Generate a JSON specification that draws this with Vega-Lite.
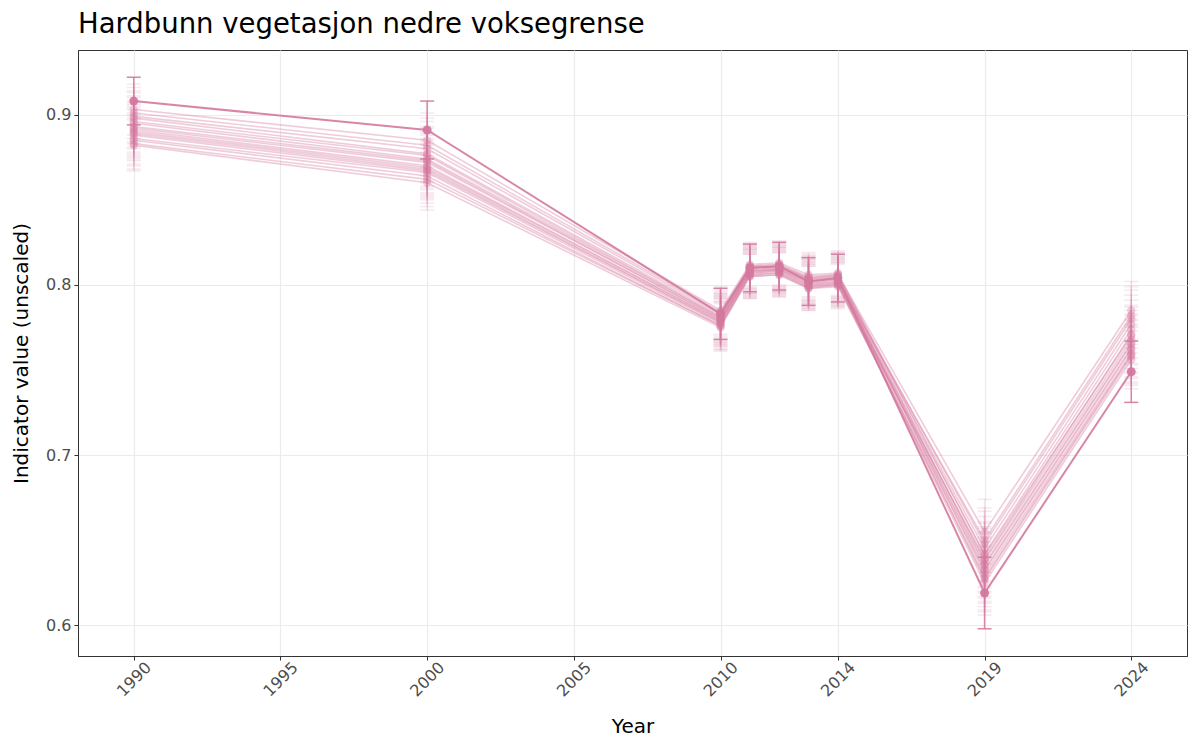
{
  "$schema": "https://vega.github.io/schema/vega-lite/v6.json",
  "width": 1200,
  "height": 750,
  "autosize": {"type": "fit", "contains": "padding"},
  "padding": {"left": 11, "right": 13, "top": 10, "bottom": 13},
  "title": {
    "text": "Hardbunn vegetasjon nedre voksegrense",
    "anchor": "start",
    "frame": "group",
    "fontSize": 27.5,
    "fontWeight": "normal",
    "font": "DejaVu Sans",
    "color": "#000000",
    "offset": 12
  },
  "data": {
    "values": [
      {"s": "main", "year": 1990, "v": 0.908, "lo": 0.894, "hi": 0.922},
      {"s": "main", "year": 2000, "v": 0.891, "lo": 0.874, "hi": 0.908},
      {"s": "main", "year": 2010, "v": 0.783, "lo": 0.768, "hi": 0.798},
      {"s": "main", "year": 2011, "v": 0.810, "lo": 0.796, "hi": 0.824},
      {"s": "main", "year": 2012, "v": 0.811, "lo": 0.797, "hi": 0.825},
      {"s": "main", "year": 2013, "v": 0.802, "lo": 0.788, "hi": 0.816},
      {"s": "main", "year": 2014, "v": 0.804, "lo": 0.790, "hi": 0.818},
      {"s": "main", "year": 2019, "v": 0.619, "lo": 0.598, "hi": 0.640},
      {"s": "main", "year": 2024, "v": 0.749, "lo": 0.731, "hi": 0.767},

      {"s": "s01", "year": 1990, "v": 0.903, "lo": 0.888, "hi": 0.918},
      {"s": "s01", "year": 2000, "v": 0.885, "lo": 0.869, "hi": 0.901},
      {"s": "s01", "year": 2010, "v": 0.785, "lo": 0.771, "hi": 0.799},
      {"s": "s01", "year": 2011, "v": 0.812, "lo": 0.799, "hi": 0.825},
      {"s": "s01", "year": 2012, "v": 0.813, "lo": 0.800, "hi": 0.826},
      {"s": "s01", "year": 2013, "v": 0.806, "lo": 0.793, "hi": 0.819},
      {"s": "s01", "year": 2014, "v": 0.807, "lo": 0.794, "hi": 0.820},
      {"s": "s01", "year": 2019, "v": 0.641, "lo": 0.622, "hi": 0.660},
      {"s": "s01", "year": 2024, "v": 0.770, "lo": 0.753, "hi": 0.787},

      {"s": "s02", "year": 1990, "v": 0.901, "lo": 0.886, "hi": 0.916},
      {"s": "s02", "year": 2000, "v": 0.882, "lo": 0.866, "hi": 0.898},
      {"s": "s02", "year": 2010, "v": 0.784, "lo": 0.770, "hi": 0.798},
      {"s": "s02", "year": 2011, "v": 0.811, "lo": 0.798, "hi": 0.824},
      {"s": "s02", "year": 2012, "v": 0.812, "lo": 0.799, "hi": 0.825},
      {"s": "s02", "year": 2013, "v": 0.805, "lo": 0.792, "hi": 0.818},
      {"s": "s02", "year": 2014, "v": 0.806, "lo": 0.793, "hi": 0.819},
      {"s": "s02", "year": 2019, "v": 0.655, "lo": 0.636, "hi": 0.674},
      {"s": "s02", "year": 2024, "v": 0.785, "lo": 0.768, "hi": 0.802},

      {"s": "s03", "year": 1990, "v": 0.899, "lo": 0.884, "hi": 0.914},
      {"s": "s03", "year": 2000, "v": 0.880, "lo": 0.864, "hi": 0.896},
      {"s": "s03", "year": 2010, "v": 0.783, "lo": 0.769, "hi": 0.797},
      {"s": "s03", "year": 2011, "v": 0.811, "lo": 0.798, "hi": 0.824},
      {"s": "s03", "year": 2012, "v": 0.812, "lo": 0.799, "hi": 0.825},
      {"s": "s03", "year": 2013, "v": 0.804, "lo": 0.791, "hi": 0.817},
      {"s": "s03", "year": 2014, "v": 0.806, "lo": 0.793, "hi": 0.819},
      {"s": "s03", "year": 2019, "v": 0.636, "lo": 0.617, "hi": 0.655},
      {"s": "s03", "year": 2024, "v": 0.766, "lo": 0.749, "hi": 0.783},

      {"s": "s04", "year": 1990, "v": 0.898, "lo": 0.883, "hi": 0.913},
      {"s": "s04", "year": 2000, "v": 0.877, "lo": 0.861, "hi": 0.893},
      {"s": "s04", "year": 2010, "v": 0.782, "lo": 0.768, "hi": 0.796},
      {"s": "s04", "year": 2011, "v": 0.810, "lo": 0.797, "hi": 0.823},
      {"s": "s04", "year": 2012, "v": 0.811, "lo": 0.798, "hi": 0.824},
      {"s": "s04", "year": 2013, "v": 0.804, "lo": 0.791, "hi": 0.817},
      {"s": "s04", "year": 2014, "v": 0.805, "lo": 0.792, "hi": 0.818},
      {"s": "s04", "year": 2019, "v": 0.648, "lo": 0.629, "hi": 0.667},
      {"s": "s04", "year": 2024, "v": 0.780, "lo": 0.763, "hi": 0.797},

      {"s": "s05", "year": 1990, "v": 0.896, "lo": 0.881, "hi": 0.911},
      {"s": "s05", "year": 2000, "v": 0.876, "lo": 0.860, "hi": 0.892},
      {"s": "s05", "year": 2010, "v": 0.781, "lo": 0.767, "hi": 0.795},
      {"s": "s05", "year": 2011, "v": 0.810, "lo": 0.797, "hi": 0.823},
      {"s": "s05", "year": 2012, "v": 0.811, "lo": 0.798, "hi": 0.824},
      {"s": "s05", "year": 2013, "v": 0.803, "lo": 0.790, "hi": 0.816},
      {"s": "s05", "year": 2014, "v": 0.805, "lo": 0.792, "hi": 0.818},
      {"s": "s05", "year": 2019, "v": 0.630, "lo": 0.611, "hi": 0.649},
      {"s": "s05", "year": 2024, "v": 0.760, "lo": 0.743, "hi": 0.777},

      {"s": "s06", "year": 1990, "v": 0.895, "lo": 0.880, "hi": 0.910},
      {"s": "s06", "year": 2000, "v": 0.874, "lo": 0.858, "hi": 0.890},
      {"s": "s06", "year": 2010, "v": 0.781, "lo": 0.767, "hi": 0.795},
      {"s": "s06", "year": 2011, "v": 0.809, "lo": 0.796, "hi": 0.822},
      {"s": "s06", "year": 2012, "v": 0.810, "lo": 0.797, "hi": 0.823},
      {"s": "s06", "year": 2013, "v": 0.803, "lo": 0.790, "hi": 0.816},
      {"s": "s06", "year": 2014, "v": 0.804, "lo": 0.791, "hi": 0.817},
      {"s": "s06", "year": 2019, "v": 0.645, "lo": 0.626, "hi": 0.664},
      {"s": "s06", "year": 2024, "v": 0.777, "lo": 0.760, "hi": 0.794},

      {"s": "s07", "year": 1990, "v": 0.893, "lo": 0.878, "hi": 0.908},
      {"s": "s07", "year": 2000, "v": 0.873, "lo": 0.857, "hi": 0.889},
      {"s": "s07", "year": 2010, "v": 0.780, "lo": 0.766, "hi": 0.794},
      {"s": "s07", "year": 2011, "v": 0.809, "lo": 0.796, "hi": 0.822},
      {"s": "s07", "year": 2012, "v": 0.810, "lo": 0.797, "hi": 0.823},
      {"s": "s07", "year": 2013, "v": 0.802, "lo": 0.789, "hi": 0.815},
      {"s": "s07", "year": 2014, "v": 0.804, "lo": 0.791, "hi": 0.817},
      {"s": "s07", "year": 2019, "v": 0.633, "lo": 0.614, "hi": 0.652},
      {"s": "s07", "year": 2024, "v": 0.763, "lo": 0.746, "hi": 0.780},

      {"s": "s08", "year": 1990, "v": 0.892, "lo": 0.877, "hi": 0.907},
      {"s": "s08", "year": 2000, "v": 0.872, "lo": 0.856, "hi": 0.888},
      {"s": "s08", "year": 2010, "v": 0.780, "lo": 0.766, "hi": 0.794},
      {"s": "s08", "year": 2011, "v": 0.808, "lo": 0.795, "hi": 0.821},
      {"s": "s08", "year": 2012, "v": 0.809, "lo": 0.796, "hi": 0.822},
      {"s": "s08", "year": 2013, "v": 0.802, "lo": 0.789, "hi": 0.815},
      {"s": "s08", "year": 2014, "v": 0.803, "lo": 0.790, "hi": 0.816},
      {"s": "s08", "year": 2019, "v": 0.650, "lo": 0.631, "hi": 0.669},
      {"s": "s08", "year": 2024, "v": 0.782, "lo": 0.765, "hi": 0.799},

      {"s": "s09", "year": 1990, "v": 0.891, "lo": 0.876, "hi": 0.906},
      {"s": "s09", "year": 2000, "v": 0.870, "lo": 0.854, "hi": 0.886},
      {"s": "s09", "year": 2010, "v": 0.779, "lo": 0.765, "hi": 0.793},
      {"s": "s09", "year": 2011, "v": 0.808, "lo": 0.795, "hi": 0.821},
      {"s": "s09", "year": 2012, "v": 0.809, "lo": 0.796, "hi": 0.822},
      {"s": "s09", "year": 2013, "v": 0.801, "lo": 0.788, "hi": 0.814},
      {"s": "s09", "year": 2014, "v": 0.803, "lo": 0.790, "hi": 0.816},
      {"s": "s09", "year": 2019, "v": 0.627, "lo": 0.608, "hi": 0.646},
      {"s": "s09", "year": 2024, "v": 0.758, "lo": 0.741, "hi": 0.775},

      {"s": "s10", "year": 1990, "v": 0.890, "lo": 0.875, "hi": 0.905},
      {"s": "s10", "year": 2000, "v": 0.869, "lo": 0.853, "hi": 0.885},
      {"s": "s10", "year": 2010, "v": 0.779, "lo": 0.765, "hi": 0.793},
      {"s": "s10", "year": 2011, "v": 0.808, "lo": 0.795, "hi": 0.821},
      {"s": "s10", "year": 2012, "v": 0.809, "lo": 0.796, "hi": 0.822},
      {"s": "s10", "year": 2013, "v": 0.801, "lo": 0.788, "hi": 0.814},
      {"s": "s10", "year": 2014, "v": 0.802, "lo": 0.789, "hi": 0.815},
      {"s": "s10", "year": 2019, "v": 0.638, "lo": 0.619, "hi": 0.657},
      {"s": "s10", "year": 2024, "v": 0.768, "lo": 0.751, "hi": 0.785},

      {"s": "s11", "year": 1990, "v": 0.889, "lo": 0.874, "hi": 0.904},
      {"s": "s11", "year": 2000, "v": 0.868, "lo": 0.852, "hi": 0.884},
      {"s": "s11", "year": 2010, "v": 0.778, "lo": 0.764, "hi": 0.792},
      {"s": "s11", "year": 2011, "v": 0.807, "lo": 0.794, "hi": 0.820},
      {"s": "s11", "year": 2012, "v": 0.808, "lo": 0.795, "hi": 0.821},
      {"s": "s11", "year": 2013, "v": 0.800, "lo": 0.787, "hi": 0.813},
      {"s": "s11", "year": 2014, "v": 0.802, "lo": 0.789, "hi": 0.815},
      {"s": "s11", "year": 2019, "v": 0.642, "lo": 0.623, "hi": 0.661},
      {"s": "s11", "year": 2024, "v": 0.774, "lo": 0.757, "hi": 0.791},

      {"s": "s12", "year": 1990, "v": 0.888, "lo": 0.873, "hi": 0.903},
      {"s": "s12", "year": 2000, "v": 0.867, "lo": 0.851, "hi": 0.883},
      {"s": "s12", "year": 2010, "v": 0.778, "lo": 0.764, "hi": 0.792},
      {"s": "s12", "year": 2011, "v": 0.807, "lo": 0.794, "hi": 0.820},
      {"s": "s12", "year": 2012, "v": 0.808, "lo": 0.795, "hi": 0.821},
      {"s": "s12", "year": 2013, "v": 0.800, "lo": 0.787, "hi": 0.813},
      {"s": "s12", "year": 2014, "v": 0.801, "lo": 0.788, "hi": 0.814},
      {"s": "s12", "year": 2019, "v": 0.625, "lo": 0.606, "hi": 0.644},
      {"s": "s12", "year": 2024, "v": 0.756, "lo": 0.739, "hi": 0.773},

      {"s": "s13", "year": 1990, "v": 0.886, "lo": 0.871, "hi": 0.901},
      {"s": "s13", "year": 2000, "v": 0.866, "lo": 0.850, "hi": 0.882},
      {"s": "s13", "year": 2010, "v": 0.777, "lo": 0.763, "hi": 0.791},
      {"s": "s13", "year": 2011, "v": 0.806, "lo": 0.793, "hi": 0.819},
      {"s": "s13", "year": 2012, "v": 0.807, "lo": 0.794, "hi": 0.820},
      {"s": "s13", "year": 2013, "v": 0.799, "lo": 0.786, "hi": 0.812},
      {"s": "s13", "year": 2014, "v": 0.801, "lo": 0.788, "hi": 0.814},
      {"s": "s13", "year": 2019, "v": 0.635, "lo": 0.616, "hi": 0.654},
      {"s": "s13", "year": 2024, "v": 0.765, "lo": 0.748, "hi": 0.782},

      {"s": "s14", "year": 1990, "v": 0.885, "lo": 0.870, "hi": 0.900},
      {"s": "s14", "year": 2000, "v": 0.864, "lo": 0.848, "hi": 0.880},
      {"s": "s14", "year": 2010, "v": 0.776, "lo": 0.762, "hi": 0.790},
      {"s": "s14", "year": 2011, "v": 0.806, "lo": 0.793, "hi": 0.819},
      {"s": "s14", "year": 2012, "v": 0.807, "lo": 0.794, "hi": 0.820},
      {"s": "s14", "year": 2013, "v": 0.799, "lo": 0.786, "hi": 0.812},
      {"s": "s14", "year": 2014, "v": 0.800, "lo": 0.787, "hi": 0.813},
      {"s": "s14", "year": 2019, "v": 0.639, "lo": 0.620, "hi": 0.658},
      {"s": "s14", "year": 2024, "v": 0.771, "lo": 0.754, "hi": 0.788},

      {"s": "s15", "year": 1990, "v": 0.883, "lo": 0.868, "hi": 0.898},
      {"s": "s15", "year": 2000, "v": 0.862, "lo": 0.846, "hi": 0.878},
      {"s": "s15", "year": 2010, "v": 0.776, "lo": 0.762, "hi": 0.790},
      {"s": "s15", "year": 2011, "v": 0.805, "lo": 0.792, "hi": 0.818},
      {"s": "s15", "year": 2012, "v": 0.806, "lo": 0.793, "hi": 0.819},
      {"s": "s15", "year": 2013, "v": 0.798, "lo": 0.785, "hi": 0.811},
      {"s": "s15", "year": 2014, "v": 0.800, "lo": 0.787, "hi": 0.813},
      {"s": "s15", "year": 2019, "v": 0.628, "lo": 0.609, "hi": 0.647},
      {"s": "s15", "year": 2024, "v": 0.759, "lo": 0.742, "hi": 0.776},

      {"s": "s16", "year": 1990, "v": 0.882, "lo": 0.867, "hi": 0.897},
      {"s": "s16", "year": 2000, "v": 0.860, "lo": 0.844, "hi": 0.876},
      {"s": "s16", "year": 2010, "v": 0.775, "lo": 0.761, "hi": 0.789},
      {"s": "s16", "year": 2011, "v": 0.805, "lo": 0.792, "hi": 0.818},
      {"s": "s16", "year": 2012, "v": 0.806, "lo": 0.793, "hi": 0.819},
      {"s": "s16", "year": 2013, "v": 0.798, "lo": 0.785, "hi": 0.811},
      {"s": "s16", "year": 2014, "v": 0.799, "lo": 0.786, "hi": 0.812},
      {"s": "s16", "year": 2019, "v": 0.632, "lo": 0.613, "hi": 0.651},
      {"s": "s16", "year": 2024, "v": 0.762, "lo": 0.745, "hi": 0.779}
    ]
  },
  "encoding": {
    "x": {
      "field": "year",
      "type": "quantitative",
      "title": "Year",
      "scale": {"domain": [1988.1, 2025.9], "nice": false, "zero": false},
      "axis": {
        "values": [1990, 1995, 2000, 2005, 2010, 2014, 2019, 2024],
        "format": "d",
        "labelAngle": -45,
        "labelAlign": "center",
        "labelBaseline": "middle",
        "labelPadding": 19,
        "titlePadding": 17
      }
    }
  },
  "layer": [
    {
      "transform": [{"filter": "datum.s != 'main'"}],
      "layer": [
        {
          "mark": {"type": "rule", "color": "#d4789e", "opacity": 0.18, "strokeWidth": 1.5},
          "encoding": {
            "y": {
              "field": "lo", "type": "quantitative", "title": "Indicator value (unscaled)",
              "scale": {"domain": [0.582, 0.938], "nice": false, "zero": false},
              "axis": {"values": [0.6, 0.7, 0.8, 0.9], "format": ".1f"}
            },
            "y2": {"field": "hi"}
          }
        },
        {
          "mark": {"type": "tick", "orient": "horizontal", "size": 14, "thickness": 1.5, "color": "#d4789e", "opacity": 0.18},
          "encoding": {"y": {"field": "lo", "type": "quantitative", "title": "Indicator value (unscaled)"}}
        },
        {
          "mark": {"type": "tick", "orient": "horizontal", "size": 14, "thickness": 1.5, "color": "#d4789e", "opacity": 0.18},
          "encoding": {"y": {"field": "hi", "type": "quantitative", "title": "Indicator value (unscaled)"}}
        },
        {
          "mark": {"type": "line", "color": "#d4789e", "opacity": 0.38, "strokeWidth": 1.6},
          "encoding": {
            "y": {"field": "v", "type": "quantitative", "title": "Indicator value (unscaled)"},
            "detail": {"field": "s", "type": "nominal"}
          }
        },
        {
          "mark": {"type": "circle", "color": "#d4789e", "opacity": 0.35, "size": 70},
          "encoding": {"y": {"field": "v", "type": "quantitative", "title": "Indicator value (unscaled)"}}
        }
      ]
    },
    {
      "transform": [{"filter": "datum.s == 'main'"}],
      "layer": [
        {
          "mark": {"type": "rule", "color": "#d4789e", "opacity": 0.9, "strokeWidth": 1.5},
          "encoding": {
            "y": {"field": "lo", "type": "quantitative", "title": "Indicator value (unscaled)"},
            "y2": {"field": "hi"}
          }
        },
        {
          "mark": {"type": "tick", "orient": "horizontal", "size": 14, "thickness": 1.5, "color": "#d4789e", "opacity": 0.9},
          "encoding": {"y": {"field": "lo", "type": "quantitative", "title": "Indicator value (unscaled)"}}
        },
        {
          "mark": {"type": "tick", "orient": "horizontal", "size": 14, "thickness": 1.5, "color": "#d4789e", "opacity": 0.9},
          "encoding": {"y": {"field": "hi", "type": "quantitative", "title": "Indicator value (unscaled)"}}
        },
        {
          "mark": {"type": "line", "color": "#d4789e", "opacity": 0.9, "strokeWidth": 2},
          "encoding": {
            "y": {"field": "v", "type": "quantitative", "title": "Indicator value (unscaled)"},
            "detail": {"field": "s", "type": "nominal"}
          }
        },
        {
          "mark": {"type": "circle", "color": "#d4789e", "opacity": 0.95, "size": 80},
          "encoding": {"y": {"field": "v", "type": "quantitative", "title": "Indicator value (unscaled)"}}
        }
      ]
    }
  ],
  "config": {
    "font": "DejaVu Sans",
    "view": {"stroke": "#333333", "strokeWidth": 1},
    "axis": {
      "grid": true,
      "gridColor": "#ebebeb",
      "gridWidth": 1.2,
      "domain": true,
      "domainColor": "#333333",
      "domainWidth": 1,
      "tickColor": "#333333",
      "tickSize": 4,
      "labelFont": "DejaVu Sans",
      "labelFontSize": 16,
      "labelColor": "#4d4d4d",
      "labelPadding": 3,
      "titleFont": "DejaVu Sans",
      "titleFontSize": 20,
      "titleFontWeight": "normal",
      "titleColor": "#000000"
    },
    "axisY": {
      "titlePadding": 14
    }
  }
}
